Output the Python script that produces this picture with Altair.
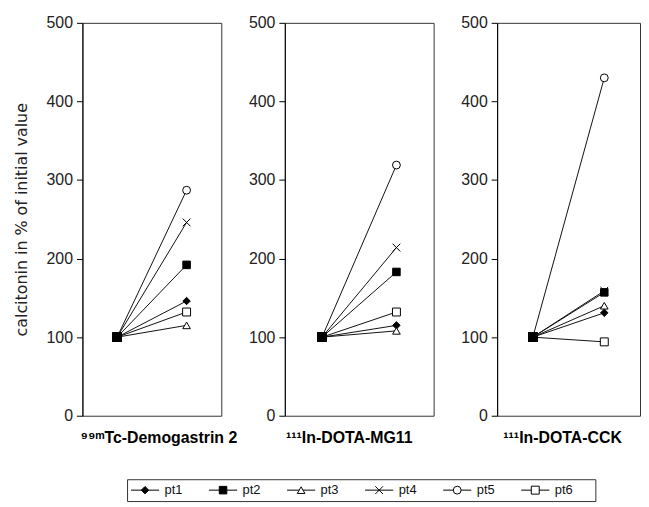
import altair as alt
import pandas as pd

# ---- data ----
series = ["pt1", "pt2", "pt3", "pt4", "pt5", "pt6"]
time_points = ["initial", "after"]
initial_values = [100, 100, 100, 100, 100, 100]
after_demogastrin = [146, 192, 115, 246, 287, 132]
after_mg11 = [115, 183, 108, 214, 319, 132]
after_cck = [131, 157, 140, 159, 430, 94]
panel_titles = ["\u2079\u2079\u1d50Tc-Demogastrin 2", "\u00b9\u00b9\u00b9In-DOTA-MG11", "\u00b9\u00b9\u00b9In-DOTA-CCK"]
y_ticks = [0, 100, 200, 300, 400, 500]
y_title = "calcitonin in % of  initial value"

# ---- marker styling ----
X_PATH = "M-1,-1L1,1M-1,1L1,-1"
shape_scale = alt.Scale(domain=series,
                        range=["diamond", "square", "triangle-up", X_PATH, "circle", "square"])
fill_scale = alt.Scale(domain=series,
                       range=["black", "black", "white", "white", "white", "white"])
size_scale = alt.Scale(domain=series, range=[56, 64, 45, 40, 30, 40])

FONT = "Liberation Sans"


def panel(values, title, width, first, dx):
    rows = []
    for s, v0, v1 in zip(series, initial_values, values):
        rows.append({"series": s, "time": time_points[0], "value": v0, "order": 0})
        rows.append({"series": s, "time": time_points[1], "value": v1, "order": 1})
    df = pd.DataFrame(rows)
    base = alt.Chart(df)
    x = alt.X("time:N", scale=alt.Scale(domain=time_points, padding=0.5), axis=None)
    y = alt.Y("value:Q", scale=alt.Scale(domain=[0, 500], nice=False),
              axis=alt.Axis(values=y_ticks, grid=False,
                            title=y_title if first else None,
                            titlePadding=17))
    lines = base.mark_line(color="#111", strokeWidth=1).encode(
        x=x, y=y, detail="series:N", order="order:Q")
    after = base.transform_filter(alt.datum.time == "after").mark_point(
        filled=True, stroke="black", strokeWidth=1, opacity=1).encode(
        x=x, y=y,
        shape=alt.Shape("series:N", scale=shape_scale, legend=None),
        fill=alt.Fill("series:N", scale=fill_scale, legend=None),
        size=alt.Size("series:N", scale=size_scale, legend=None))
    start = base.transform_filter(alt.datum.time == "initial").mark_square(
        size=90, color="black", opacity=1).encode(x=x, y=y)
    return alt.layer(lines, after, start).properties(
        width=width, height=396,
        title=alt.TitleParams(title, orient="bottom", font=FONT, fontSize=16,
                              fontWeight="bold", color="#000", offset=6,
                              frame="group", anchor="middle", dx=dx))


p1 = panel(after_demogastrin, panel_titles[0], 140, True, 7)
p2 = panel(after_mg11, panel_titles[1], 150, False, -10)
p3 = panel(after_cck, panel_titles[2], 144, False, -6)

top = alt.hconcat(p1, p2, p3, spacing=64, bounds="flush")

# ---- legend row ----
legend_df = pd.DataFrame({"series": series, "i": list(range(len(series)))})
lbase = alt.Chart(legend_df).transform_calculate(
    x0="datum.i + 0.05", x1="datum.i + 0.41", xm="datum.i + 0.23",
    xt="datum.i + 0.48")
lx = alt.Scale(domain=[0, 6], nice=False)
lrule = lbase.mark_rule(color="black", strokeWidth=1).encode(
    x=alt.X("x0:Q", scale=lx, axis=None), x2="x1:Q", y=alt.value(11))
lpts = lbase.mark_point(filled=True, stroke="black", strokeWidth=1, opacity=1).encode(
    x=alt.X("xm:Q", scale=lx, axis=None), y=alt.value(11),
    shape=alt.Shape("series:N", scale=shape_scale, legend=None),
    fill=alt.Fill("series:N", scale=fill_scale, legend=None),
    size=alt.Size("series:N", scale=alt.Scale(domain=series, range=[36, 36, 28, 26, 22, 26]), legend=None))
ltext = lbase.mark_text(align="left", baseline="middle", font=FONT, fontSize=13,
                        color="#111").encode(
    x=alt.X("xt:Q", scale=lx, axis=None), y=alt.value(11), text="series:N")
legend = alt.layer(lrule, lpts, ltext).properties(width=472, height=22)

spacer = alt.Chart(legend_df).mark_point(opacity=0).encode(
    x=alt.value(0), y=alt.value(0)).properties(
    width=14, height=22, view=alt.ViewBackground(stroke=None))
legend_row = alt.hconcat(spacer, legend, spacing=30)

chart = alt.concat(top, legend_row, columns=1, spacing=30).properties(
    padding={"left": 4, "top": 4, "right": 0, "bottom": 0}
).configure_view(stroke="#333", strokeWidth=1).configure_axis(
    labelFont=FONT, labelFontSize=16, labelColor="#222", labelPadding=4,
    tickSize=6, tickColor="#000", domainColor="#000",
    titleFont="DejaVu Sans", titleFontSize=16, titleFontWeight="normal", titleColor="#222"
).configure_scale(pointPadding=0.5)

chart.save("out.html", embed_options={"renderer": "svg", "actions": False})
